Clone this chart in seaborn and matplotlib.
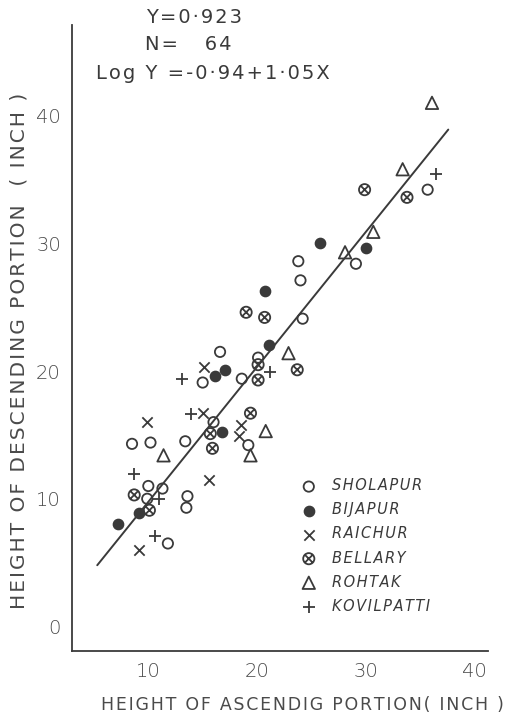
import numpy as np
import pandas as pd
import matplotlib
matplotlib.use("Agg")
import matplotlib.pyplot as plt
from matplotlib.path import Path
import seaborn as sns

# Values (inches)
sholapur_x = [8.5, 10.2, 13.4, 10.0, 11.3, 9.9, 13.6, 13.5, 11.8, 16.6, 20.1, 15.0, 18.6, 16.0, 19.2, 24.2, 23.8, 24.0, 29.1, 35.7]
sholapur_y = [14.3, 14.4, 14.5, 11.0, 10.8, 10.0, 10.2, 9.3, 6.5, 21.5, 21.05, 19.1, 19.4, 16.0, 14.2, 24.1, 28.6, 27.1, 28.4, 34.2]

bijapur_x = [9.1, 7.2, 21.1, 17.1, 16.1, 16.8, 20.7, 25.8, 30.0]
bijapur_y = [8.9, 8.0, 22.0, 20.1, 19.6, 15.2, 26.3, 30.0, 29.6]

raichur_x = [9.9, 9.1, 15.1, 15.0, 18.5, 18.3, 15.6]
raichur_y = [16.0, 6.0, 20.3, 16.7, 15.8, 14.9, 11.5]

bellary_x = [8.7, 10.1, 20.1, 23.7, 20.1, 19.4, 15.7, 15.9, 19.0, 20.7, 29.9, 33.8]
bellary_y = [10.3, 9.1, 20.5, 20.1, 19.3, 16.7, 15.1, 13.95, 24.6, 24.2, 34.2, 33.6]

rohtak_x = [11.4, 22.9, 20.8, 19.4, 28.1, 30.7, 33.4, 36.1]
rohtak_y = [13.4, 21.4, 15.3, 13.4, 29.3, 30.9, 35.8, 41.0]

kovilpatti_x = [13.9, 8.7, 11.0, 10.6, 13.1, 21.2, 36.5]
kovilpatti_y = [16.6, 11.9, 10.0, 7.05, 19.4, 19.95, 35.4]

# fitted line as drawn
fit_x = [5.3, 37.6]
fit_intercept = -0.8
fit_slope = 1.056

x_ticks = [10, 20, 30, 40]
y_ticks = [0, 10, 20, 30, 40]

ink = "#3a3a3a"
grey_txt = "#4a4a4a"


def spaced(s):
    # hand lettering is widely spaced
    return "\u200a".join(s)


# circle with a cross inside for Bellary
circ = Path.unit_circle()
d = 0.62
cross = Path([(-d, -d), (d, d), (-d, d), (d, -d)],
             [Path.MOVETO, Path.LINETO, Path.MOVETO, Path.LINETO])
bellary_marker = Path.make_compound_path(circ, cross)

groups = [
    ("SHOLAPUR", sholapur_x, sholapur_y, dict(marker="o", s=55, facecolor="none", edgecolor=ink, linewidth=1.3)),
    ("BIJAPUR", bijapur_x, bijapur_y, dict(marker="o", s=55, facecolor=ink, edgecolor=ink, linewidth=1.0)),
    ("RAICHUR", raichur_x, raichur_y, dict(marker="x", s=55, color=ink, linewidth=1.3)),
    ("BELLARY", bellary_x, bellary_y, dict(marker=bellary_marker, s=65, facecolor="none", edgecolor=ink, linewidth=1.3)),
    ("ROHTAK", rohtak_x, rohtak_y, dict(marker="^", s=80, facecolor="none", edgecolor=ink, linewidth=1.3)),
    ("KOVILPATTI", kovilpatti_x, kovilpatti_y, dict(marker="+", s=80, color=ink, linewidth=1.3)),
]

sns.set_style("white")
plt.rcParams["font.family"] = ["DejaVu Sans"]

fig = plt.figure(figsize=(5.13, 7.18), dpi=100)
ax = fig.add_axes([0.1404, 0.0933, 0.811, 0.872])

for name, xs, ys, kw in groups:
    df = pd.DataFrame({"x": xs, "y": ys})
    sns.scatterplot(data=df, x="x", y="y", ax=ax, label=spaced(name), zorder=3, **kw)

fx = np.array(fit_x)
sns.lineplot(x=fx, y=fit_intercept + fit_slope * fx, ax=ax, color=ink, linewidth=1.4, zorder=2)

ax.set_xlim(2.98, 41.26)
ax.set_ylim(-1.92, 47.1)
ax.set_xticks(x_ticks)
ax.set_yticks(y_ticks)
ax.tick_params(axis="both", direction="in", colors=ink, labelsize=14, width=1.2)
ax.tick_params(axis="x", length=10, pad=8)
ax.tick_params(axis="y", length=8, pad=8)
for lab in ax.get_xticklabels() + ax.get_yticklabels():
    lab.set_color(grey_txt)
    lab.set_fontweight("light")

for s in ["top", "right"]:
    ax.spines[s].set_visible(False)
for s in ["left", "bottom"]:
    ax.spines[s].set_color(ink)
    ax.spines[s].set_linewidth(1.3)

ax.set_xlabel(spaced("HEIGHT OF ASCENDIG PORTION( INCH )"), fontsize=12.5, color=grey_txt)
ax.xaxis.set_label_coords(0.553, -0.072)
ax.set_ylabel(spaced("HEIGHT OF DESCENDING PORTION  ( INCH )"), fontsize=14.5, color=grey_txt)
ax.yaxis.set_label_coords(-0.105, 0.48)

# equation block
fig.text(0.285, 0.975, spaced("Y=0·923"), fontsize=14, color=ink, va="center")
fig.text(0.283, 0.938, spaced("N=   64"), fontsize=14, color=ink, va="center")
fig.text(0.188, 0.898, spaced("Log Y =-0·94+1·05X"), fontsize=14, color=ink, va="center")

leg = ax.legend(loc="upper left", bbox_to_anchor=(0.52, 0.285), frameon=False,
                fontsize=10.5, labelspacing=0.62, handletextpad=0.6, borderaxespad=0)
for t in leg.get_texts():
    t.set_fontstyle("italic")
    t.set_color(ink)

fig.savefig("out.png", dpi=100, facecolor="white")
